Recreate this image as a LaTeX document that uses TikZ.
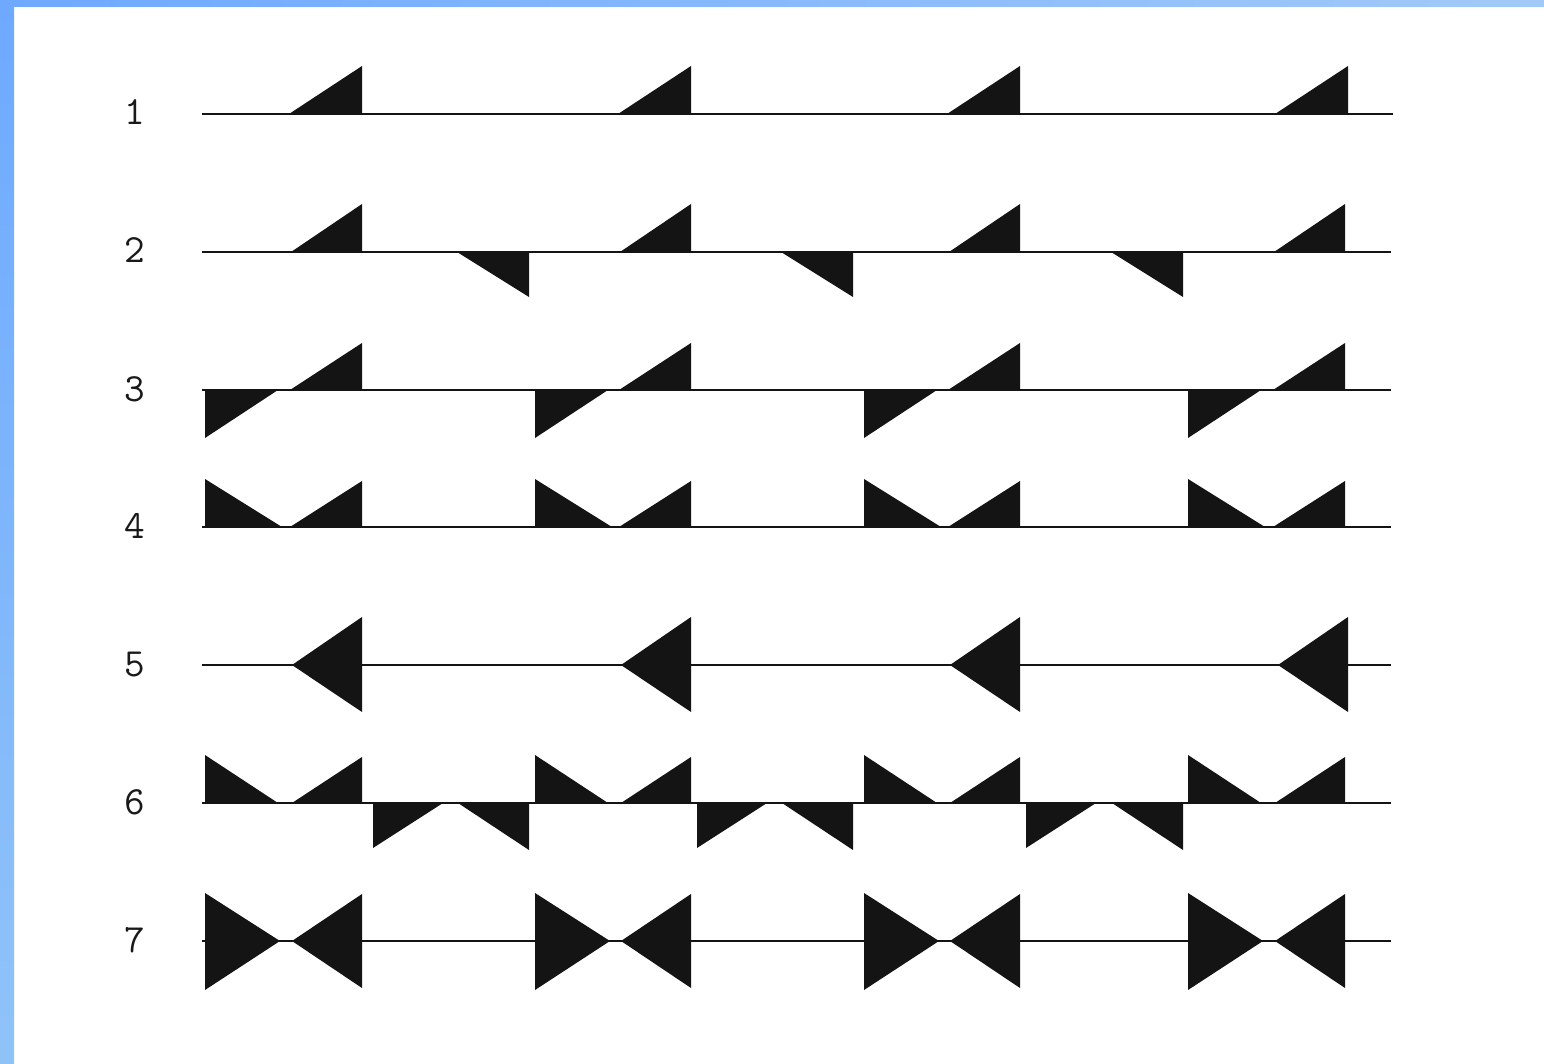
\documentclass[tikz,border=0pt]{standalone}
\usepackage{fontspec}
\begin{document}
\begin{tikzpicture}[x=1pt,y=-1pt,
  wire/.style={line width=2pt,draw=black!92},
  tri/.style={fill=black!92,draw=none},
  lbl/.style={font=\ttfamily\fontsize{40}{40}\selectfont,text=black!90,inner sep=0pt}]
\definecolor{bandA}{HTML}{6EA9FF}
\definecolor{bandB}{HTML}{A2CAF8}
\definecolor{bandC}{HTML}{8FC3F8}
\useasboundingbox (0,0) rectangle (1544,1064);
\fill[white] (0,0) rectangle (1544,1064);
\shade[left color=bandA,right color=bandB] (0,0) rectangle (1544,7);
\shade[top color=bandA,bottom color=bandC] (0,0) rectangle (14,1064);
% labels
\foreach \n/\y in {1/114,2/252,3/390,4/527,5/665,6/803,7/941}
  \node[lbl,anchor=base] (L\n) at (135,\y+11) {\n};
% row lines
\coordinate (r1a) at (202,114); \coordinate (r1b) at (1393,114);
\draw[wire] (r1a) -- (r1b);
\foreach \y/\k in {252/2,390/3,527/4,665/5,803/6,941/7}{
  \coordinate (r\k a) at (202,\y); \coordinate (r\k b) at (1391,\y);
  \draw[wire] (r\k a) -- (r\k b);
}
% row 1
\foreach \d in {0,329,658,986}
  \fill[tri] (289+\d,114) -- (362+\d,114) -- (362+\d,66) -- cycle;
% row 2
\foreach \d in {0,329,658,983}
  \fill[tri] (291+\d,252) -- (362+\d,252) -- (362+\d,204) -- cycle;
\foreach \d in {0,324,654}
  \fill[tri] (457+\d,252) -- (529+\d,252) -- (529+\d,297) -- cycle;
% row 3
\foreach \d in {0,329,658,983}
  \fill[tri] (290+\d,390) -- (362+\d,390) -- (362+\d,343) -- cycle;
\foreach \d in {0,330,659,983}
  \fill[tri] (205+\d,390) -- (278+\d,390) -- (205+\d,438) -- cycle;
% row 4
\foreach \d in {0,330,659,983}
  \fill[tri] (205+\d,479) -- (205+\d,527) -- (282+\d,527) -- cycle;
\foreach \d in {0,329,658,983}
  \fill[tri] (290+\d,527) -- (362+\d,527) -- (362+\d,481) -- cycle;
% row 5
\foreach \d in {0,329,658,986}
  \fill[tri] (292+\d,665) -- (362+\d,617) -- (362+\d,712) -- cycle;
% row 6
\foreach \d in {0,330,659,983}
  \fill[tri] (205+\d,755) -- (205+\d,803) -- (278+\d,803) -- cycle;
\foreach \d in {0,329,658,983}
  \fill[tri] (292+\d,803) -- (362+\d,803) -- (362+\d,757) -- cycle;
\foreach \d in {0,324,653}
  \fill[tri] (373+\d,803) -- (443+\d,803) -- (373+\d,848) -- cycle;
\foreach \d in {0,324,654}
  \fill[tri] (458+\d,803) -- (529+\d,803) -- (529+\d,850) -- cycle;
% row 7
\foreach \d in {0,330,659,983}
  \fill[tri] (205+\d,893) -- (205+\d,990) -- (280+\d,941) -- cycle;
\foreach \d in {0,329,658,983}
  \fill[tri] (292+\d,941) -- (362+\d,894) -- (362+\d,988) -- cycle;
\end{tikzpicture}
\end{document}
